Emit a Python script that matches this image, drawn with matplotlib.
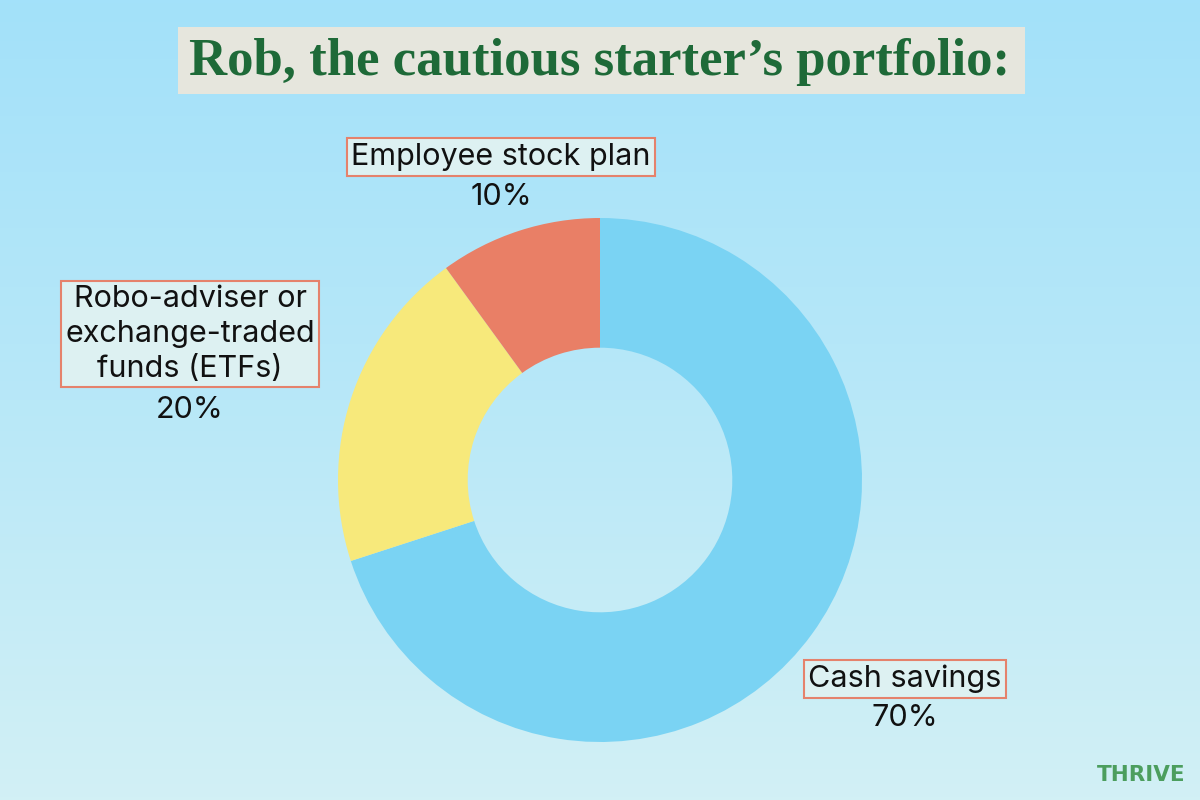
import numpy as np
import matplotlib.pyplot as plt
from matplotlib.colors import LinearSegmentedColormap
from matplotlib.patches import Rectangle

# Data
categories = ["Cash savings", "Robo-adviser or\nexchange-traded\nfunds (ETFs)", "Employee stock plan"]
shares = [70, 20, 10]
colors = ["#7AD3F3", "#F7E97B", "#E97F66"]
title = "Rob, the cautious starter\u2019s portfolio:"

W, H = 1200, 800


def fx(px):
    return px / W


def fy(py):
    return 1 - py / H


def main():
    fig = plt.figure(figsize=(12, 8), dpi=100)

    # background gradient
    bg = fig.add_axes([0, 0, 1, 1])
    cmap = LinearSegmentedColormap.from_list("sky", ["#A3E1FA", "#B8E8F8", "#D2F0F5"])
    grad = np.linspace(0, 1, 256).reshape(-1, 1)
    bg.imshow(grad, cmap=cmap, aspect="auto", extent=[0, 1, 0, 1])
    bg.set_xlim(0, 1)
    bg.set_ylim(0, 1)
    bg.axis("off")

    # title strip
    bg.add_patch(Rectangle((fx(178), fy(94)), fx(1025) - fx(178), fy(27) - fy(94),
                           facecolor="#E6E6DD", edgecolor="none"))
    bg.text(fx(600), fy(62), title, ha="center", va="center",
            fontsize=38, fontweight="bold", family="Liberation Serif", color="#1E6A38")

    # donut
    r = 262
    ax = fig.add_axes([fx(600 - r), fy(480 + r), 2 * r / W, 2 * r / H])
    ax.pie(shares, colors=colors, startangle=90, counterclock=False,
           radius=1, wedgeprops=dict(width=0.495, linewidth=0))
    ax.set_xlim(-1, 1)
    ax.set_ylim(-1, 1)
    ax.axis("off")

    # labels
    box = dict(boxstyle="square,pad=0.15", facecolor="#DDF1F2", edgecolor="#E5826C", linewidth=1.5)
    label_pos = [(905, 679, 718), (190, 334, 410), (501, 157, 197)]
    for name, val, (x, yl, yv) in zip(categories, shares, label_pos):
        bg.text(fx(x), fy(yl), name, ha="center", va="center", fontsize=22,
                family="Inter", color="#111111", bbox=box, linespacing=1.3)
        bg.text(fx(x), fy(yv), f"{val}%", ha="center", va="center", fontsize=22,
                family="Inter", color="#111111")

    # logo
    bg.text(fx(1141), fy(775), "THRIVE", ha="center", va="center", fontsize=15.5,
            fontweight="heavy", family="DejaVu Sans", color="#4C9E5E")

    fig.savefig("out.png", dpi=100)
    plt.close(fig)


if __name__ == "__main__":
    main()
